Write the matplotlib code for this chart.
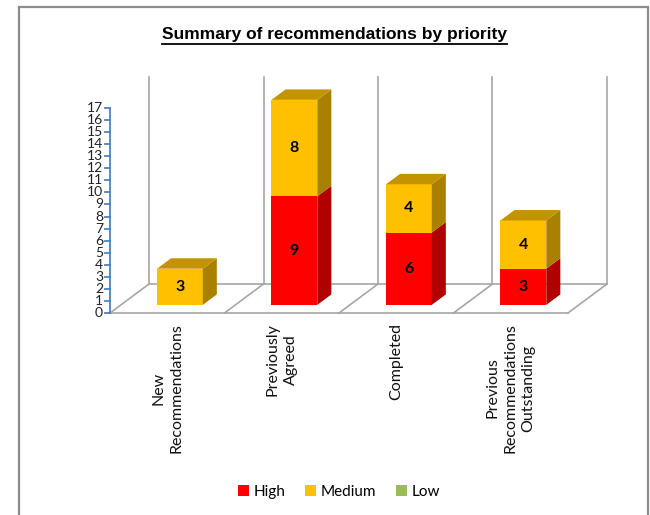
import matplotlib.pyplot as plt
from matplotlib.patches import Polygon, Patch, Rectangle
from matplotlib.lines import Line2D

categories = ['New\nRecommendations', 'Previously\nAgreed', 'Completed',
              'Previous\nRecommendations\nOutstanding']
high = [0, 9, 6, 3]
medium = [3, 8, 4, 4]
low = [0, 0, 0, 0]
series_names = ['High', 'Medium', 'Low']
y_ticks = list(range(0, 18))

# front, side, top colours per series
colors = {
    'High': ('#FF0000', '#B00000', '#C80000'),
    'Medium': ('#FFC000', '#A98000', '#C49400'),
    'Low': ('#9BBB59', '#6E8A3A', '#7E9E45'),
}

plt.rcParams['font.family'] = ['Lato', 'DejaVu Sans']

W, H = 650, 515
fig = plt.figure(figsize=(W / 100, H / 100), dpi=100)

# scale: one category = 114.5 px, one unit of value = 12.06 px,
# origin at the front left corner of the floor
cat_px, val_px = 114.5, 12.06
x0_px, y0_px = 110, 313
ax = fig.add_axes([0, 0, 1, 1])
ax.set_xlim((0 - x0_px) / cat_px, (W - x0_px) / cat_px)
ax.set_ylim((y0_px - H) / val_px, y0_px / val_px)
ax.axis('off')

# depth of the floor as a vector in data units
Du, Dv = 39 / cat_px, 29 / val_px
n = len(categories)
grid_c = '#A6A6A6'

# floor
ax.plot([0, n], [0, 0], color=grid_c, lw=1.2, zorder=1)
ax.plot([Du, n + Du], [Dv, Dv], color=grid_c, lw=1.2, zorder=1)
for i in range(n + 1):
    ax.plot([i, i + Du], [0, Dv], color=grid_c, lw=1.2, zorder=1)
    # back wall dividers
    ax.plot([i + Du, i + Du], [Dv, (y0_px - 77) / val_px], color=grid_c, lw=1.2, zorder=1)

# y axis
axis_c = '#4F81BD'
tick = 5 / cat_px
ax.plot([0, 0], [0, y_ticks[-1]], color=axis_c, lw=1.3, zorder=2)
for k in y_ticks:
    ax.plot([-tick, 0], [k, k], color=axis_c, lw=1.3, zorder=2)
    ax.text(-tick - 2 / cat_px, k, str(k), ha='right', va='center',
            fontsize=10, color='#222222')

# bars
f0, f1 = 0.28, 0.64
bar_left, bar_w = 0.315, 0.40


def pt(x, y, f):
    return (x + f * Du, y + f * Dv)


for i in range(n):
    bottom = 0
    vals = [high[i], medium[i], low[i]]
    segs = [(s, v) for s, v in zip(series_names, vals) if v > 0]
    for j, (s, v) in enumerate(segs):
        front, side, top = colors[s]
        xl = i + bar_left
        xr = xl + bar_w
        y1 = bottom + v
        ax.add_patch(Polygon([pt(xl, bottom, f0), pt(xr, bottom, f0), pt(xr, y1, f0), pt(xl, y1, f0)],
                             closed=True, fc=front, ec='none', zorder=3))
        ax.add_patch(Polygon([pt(xr, bottom, f0), pt(xr, bottom, f1), pt(xr, y1, f1), pt(xr, y1, f0)],
                             closed=True, fc=side, ec='none', zorder=3))
        if j == len(segs) - 1:
            ax.add_patch(Polygon([pt(xl, y1, f0), pt(xr, y1, f0), pt(xr, y1, f1), pt(xl, y1, f1)],
                                 closed=True, fc=top, ec='none', zorder=3))
        cx, cy = pt((xl + xr) / 2, bottom + v / 2, f0)
        ax.text(cx, cy, str(v), ha='center', va='center', fontsize=11.5,
                fontweight='bold', color='black', zorder=4)
        bottom = y1

# category labels
for i, c in enumerate(categories):
    ax.text(i + 0.5, (y0_px - 323) / val_px, c, rotation=90, ha='center', va='top',
            multialignment='center', fontsize=11.5, linespacing=1.35, color='#111111')

# title with underline
t = fig.text(334 / W, 1 - 39 / H, 'Summary of recommendations by priority',
             ha='center', va='baseline', fontsize=12.5, fontweight='bold',
             family='Liberation Sans', color='black')
fig.canvas.draw()
bb = t.get_window_extent()
fig.add_artist(Line2D([bb.x0 / W, bb.x1 / W], [1 - 44 / H, 1 - 44 / H],
                      color='black', lw=1.3))

# legend
handles = [Patch(fc=colors[s][0], ec='none') for s in series_names]
fig.legend(handles, series_names, loc='center', bbox_to_anchor=(339 / W, 1 - 492 / H),
           ncol=3, frameon=False, fontsize=11, handlelength=0.7, handleheight=0.7,
           handletextpad=0.3, columnspacing=1.3)

# chart border
fig.add_artist(Rectangle((19 / W, -0.05), (648 - 19) / W, 1.05 - 7 / H,
                         fill=False, ec='#8C8C8C', lw=1.6, transform=fig.transFigure))

fig.savefig('out.png', dpi=100)
